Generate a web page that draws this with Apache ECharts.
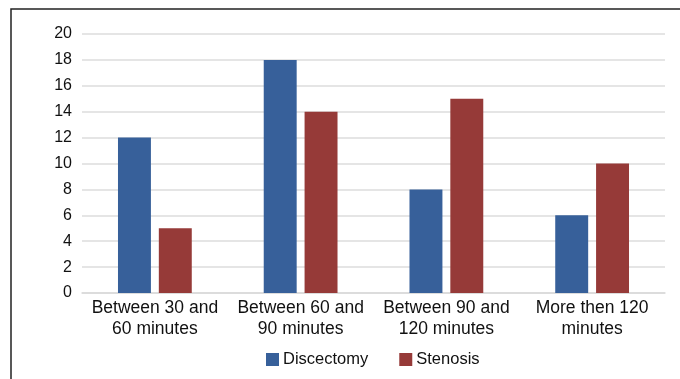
<!DOCTYPE html>
<html>
<head>
<meta charset="utf-8">
<script src="https://cdn.jsdelivr.net/npm/echarts@6/dist/echarts.min.js"></script>
<style>
  html, body { margin: 0; padding: 0; background: #fff; }
  #chart { width: 680px; height: 379px; }
</style>
</head>
<body>
<div id="chart"></div>
<script>
// Operation duration groups and case counts per procedure
const categories = ['Between 30 and\n60 minutes', 'Between 60 and\n90 minutes', 'Between 90 and\n120 minutes', 'More then 120\nminutes'];
const discectomy = [12, 18, 8, 6];
const stenosis = [5, 14, 15, 10];
const seriesNames = ['Discectomy', 'Stenosis'];

const font = '"Liberation Sans", Arial, Helvetica, sans-serif';
const chart = echarts.init(document.getElementById('chart'));

chart.setOption({
  animation: false,
  textStyle: { fontFamily: font },
  graphic: [{
    type: 'rect',
    shape: { x: 11, y: 9, width: 700, height: 400 },
    style: { fill: 'none', stroke: '#222', lineWidth: 1.5 },
    silent: true
  }],
  legend: {
    data: seriesNames,
    top: 346,
    left: 261,
    itemWidth: 13,
    itemHeight: 13,
    itemGap: 31,
    icon: 'rect',
    textStyle: { fontFamily: font, fontSize: 16.5, color: '#111', padding: [0, 0, 0, -1] }
  },
  grid: { left: 82, right: 15, top: 34, bottom: 86 },
  xAxis: {
    type: 'category',
    data: categories,
    axisLine: { lineStyle: { color: '#d9d9d9', width: 1.5 } },
    axisTick: { show: false },
    axisLabel: { fontFamily: font, fontSize: 17.5, color: '#111', lineHeight: 21, margin: 5, interval: 0 }
  },
  yAxis: {
    type: 'value',
    min: 0,
    max: 20,
    interval: 2,
    axisLine: { show: false },
    axisTick: { show: false },
    splitLine: { lineStyle: { color: '#dcdcdc', width: 1.5 } },
    axisLabel: { fontFamily: font, fontSize: 16, color: '#111', margin: 10 }
  },
  series: [
    {
      name: seriesNames[0],
      type: 'bar',
      data: discectomy,
      barWidth: '22.6%',
      barGap: '24%',
      itemStyle: { color: '#37609a' }
    },
    {
      name: seriesNames[1],
      type: 'bar',
      data: stenosis,
      barWidth: '22.6%',
      itemStyle: { color: '#963a38' }
    }
  ]
});
</script>
</body>
</html>
